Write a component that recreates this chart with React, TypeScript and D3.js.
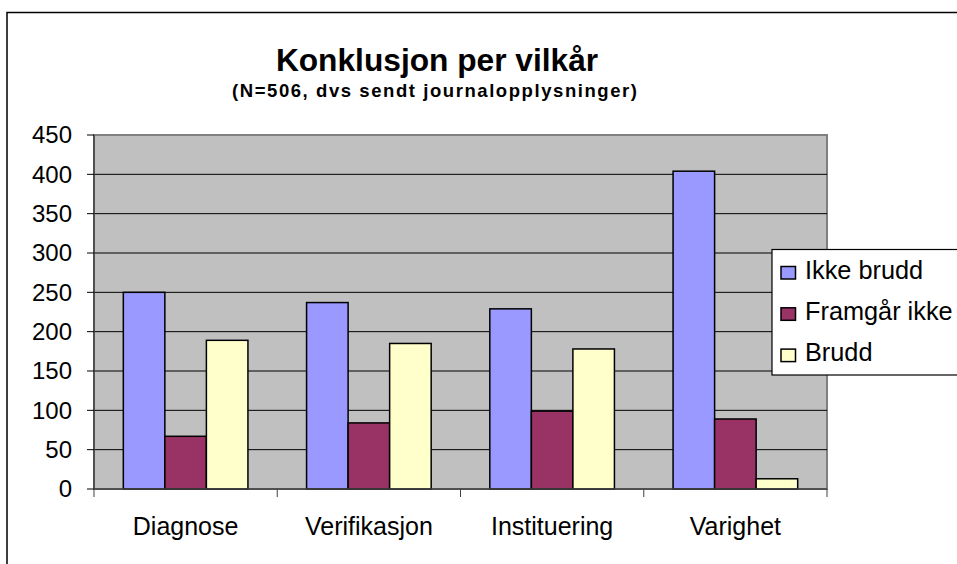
import React from "react";
import * as d3 from "d3";

const categories = ["Diagnose", "Verifikasjon", "Instituering", "Varighet"];
const seriesNames = ["Ikke brudd", "Framgår ikke", "Brudd"];
const ikkeBrudd = [250, 237, 229, 404];
const framgarIkke = [67, 84, 99, 89];
const brudd = [189, 185, 178, 13];
const seriesValues = [ikkeBrudd, framgarIkke, brudd];
const seriesColors = ["#9999FF", "#993366", "#FFFFCC"];
const yTicks = [0, 50, 100, 150, 200, 250, 300, 350, 400, 450];
const title = "Konklusjon per vilkår";
const subtitle = "(N=506, dvs sendt journalopplysninger)";

const W = 957;
const H = 564;
const plot = { left: 94, right: 827, top: 135, bottom: 489 };
const FONT = "'Liberation Sans', Arial, sans-serif";

export default function App() {
  const x = d3
    .scaleBand<string>()
    .domain(categories)
    .range([plot.left, plot.right])
    .paddingInner(0)
    .paddingOuter(0);
  const bw = x.bandwidth();
  const inner = d3
    .scaleBand<number>()
    .domain(d3.range(seriesNames.length))
    .range([bw * 0.16, bw * 0.84])
    .padding(0);
  const y = d3.scaleLinear().domain([0, 450]).range([plot.bottom, plot.top]);

  const catEdges = categories.map((c) => x(c) as number).concat([plot.right]);

  return (
    <svg
      width={W}
      height={H}
      style={{ position: "absolute", left: 0, top: 0, background: "#fff" }}
      fontFamily={FONT}
    >
      <rect x={0} y={0} width={W} height={H} fill="#fff" />
      {/* outer chart frame */}
      <path d={`M7,${H + 5} V12.5 H${W + 5}`} fill="none" stroke="#000" strokeWidth={1.5} />

      {/* titles */}
      <text x={437} y={71} textAnchor="middle" fontSize={31.7} fontWeight="bold" fill="#000">
        {title}
      </text>
      <text
        x={434.5}
        y={97}
        textAnchor="middle"
        fontSize={18.5}
        fontWeight="bold"
        fill="#000"
        textLength={405}
        lengthAdjust="spacing"
      >
        {subtitle}
      </text>

      {/* plot area */}
      <rect
        x={plot.left}
        y={plot.top}
        width={plot.right - plot.left}
        height={plot.bottom - plot.top}
        fill="#C0C0C0"
        stroke="#808080"
        strokeWidth={2}
      />
      {yTicks
        .filter((t) => t > 0 && t < 450)
        .map((t) => (
          <line
            key={"g" + t}
            x1={plot.left}
            x2={plot.right}
            y1={y(t)}
            y2={y(t)}
            stroke="#000"
            strokeWidth={1}
          />
        ))}

      {/* bars */}
      {categories.map((c, ci) =>
        seriesValues.map((vals, si) => {
          const bx = (x(c) as number) + (inner(si) as number);
          const v = vals[ci];
          return (
            <rect
              key={c + si}
              x={bx}
              y={y(v)}
              width={inner.bandwidth()}
              height={y(0) - y(v)}
              fill={seriesColors[si]}
              stroke="#000"
              strokeWidth={1.5}
            />
          );
        })
      )}

      {/* axes */}
      <line x1={plot.left} x2={plot.left} y1={plot.top} y2={plot.bottom} stroke="#404040" strokeWidth={1.5} />
      <line x1={plot.left} x2={plot.right} y1={plot.bottom} y2={plot.bottom} stroke="#404040" strokeWidth={1.5} />
      {yTicks.map((t) => (
        <g key={"yt" + t}>
          <line x1={plot.left - 7} x2={plot.left} y1={y(t)} y2={y(t)} stroke="#000" strokeWidth={1} />
          <text x={72} y={y(t)} dy="0.35em" textAnchor="end" fontSize={24} fill="#000">
            {t}
          </text>
        </g>
      ))}
      {catEdges.map((e, i) => (
        <line key={"xt" + i} x1={e} x2={e} y1={plot.bottom} y2={plot.bottom + 8} stroke="#404040" strokeWidth={1} />
      ))}
      {categories.map((c) => (
        <text
          key={"xl" + c}
          x={(x(c) as number) + bw / 2}
          y={535}
          textAnchor="middle"
          fontSize={25}
          fill="#000"
        >
          {c}
        </text>
      ))}

      {/* legend */}
      <rect x={772} y={249.5} width={200} height={125.5} fill="#fff" stroke="#000" strokeWidth={1.2} />
      {seriesNames.map((s, i) => {
        const cy = 273 + i * 41.3;
        return (
          <g key={"lg" + s}>
            <rect x={781} y={cy - 6.5} width={14.5} height={12.5} fill={seriesColors[i]} stroke="#000" strokeWidth={1.5} />
            <text x={805} y={cy + 5.5} fontSize={25.3} fill="#000">
              {s}
            </text>
          </g>
        );
      })}
    </svg>
  );
}
